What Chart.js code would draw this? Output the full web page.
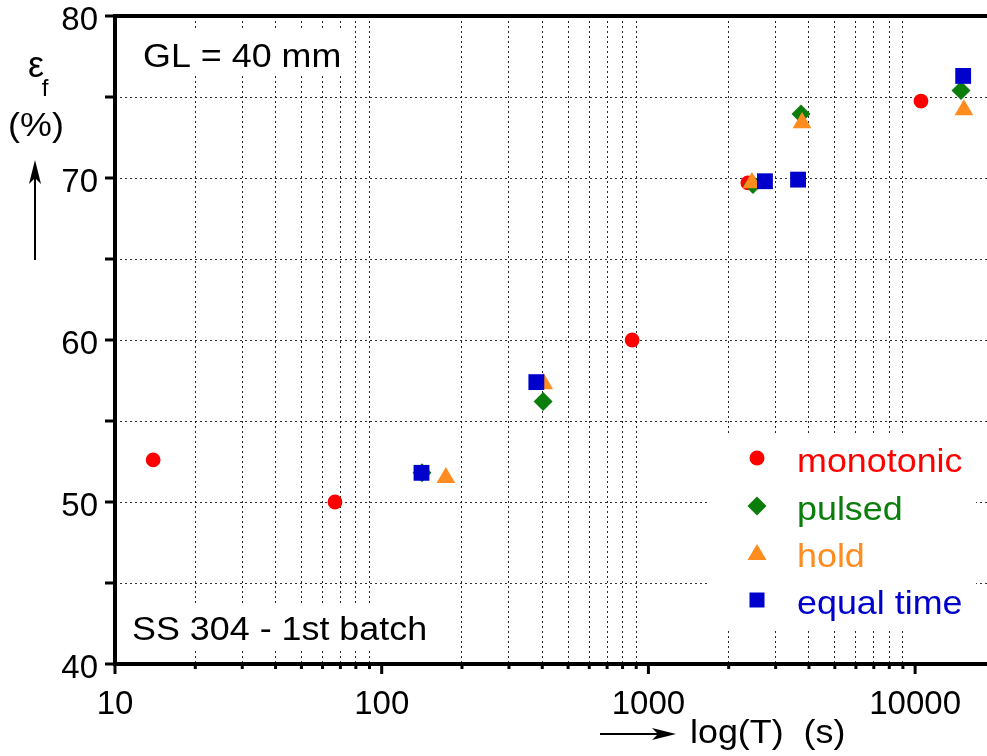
<!DOCTYPE html>
<html>
<head>
<meta charset="utf-8">
<script src="https://cdn.jsdelivr.net/npm/chart.js@4"></script>
<style>
  html, body { margin: 0; padding: 0; background: #fff; }
  #wrap { width: 987px; height: 756px; }
</style>
</head>
<body>
<div id="wrap"><canvas id="c" width="987" height="756"></canvas></div>
<script>
// data: time to failure (s) and strain at failure (%)
const monoT = [13.9, 66.8, 869, 2360, 10520];
const monoE = [52.6, 50.0, 60.0, 69.7, 74.75];
const pulsedT = [141.6, 403, 2466, 3733, 14860];
const pulsedE = [51.8, 56.2, 69.6, 73.95, 75.4];
const holdT = [174, 405, 2443, 3767, 15240];
const holdE = [51.5, 57.3, 69.7, 73.4, 74.2];
const equalT = [141, 380, 2735, 3640, 15140];
const equalE = [51.8, 57.4, 69.8, 69.9, 76.3];

const seriesNames = ["monotonic", "pulsed", "hold", "equal time"];
const seriesColors = ["#ff0000", "#0a7d0a", "#ff8c1e", "#0000cc"];
const xTicks = [10, 20, 30, 40, 50, 60, 70, 80, 90,
  100, 200, 300, 400, 500, 600, 700, 800, 900,
  1000, 2000, 3000, 4000, 5000, 6000, 7000, 8000, 9000, 10000];
const yTicks = [40, 45, 50, 55, 60, 65, 70, 75, 80];

const FONT = "'Liberation Sans', Arial, sans-serif";

function pts(xs, ys) {
  return xs.map((x, i) => ({ x: x, y: ys[i] }));
}
const isDecade = (v) => Math.abs(Math.log10(v) - Math.round(Math.log10(v))) < 1e-9;

// the original lettering is a little wider than Liberation Sans
function wideText(ctx, s, x, y) {
  ctx.save();
  ctx.translate(x, y);
  ctx.scale(1.055, 1);
  ctx.fillText(s, 0, 0);
  ctx.restore();
}

// legend marker shapes
function marker(ctx, style, x, y, color) {
  ctx.fillStyle = color;
  ctx.beginPath();
  if (style === "circle") {
    ctx.arc(x, y, 7.5, 0, Math.PI * 2);
  } else if (style === "diamond") {
    ctx.moveTo(x, y - 9.5); ctx.lineTo(x + 9.5, y);
    ctx.lineTo(x, y + 9.5); ctx.lineTo(x - 9.5, y);
  } else if (style === "triangle") {
    ctx.moveTo(x, y - 9); ctx.lineTo(x + 9.5, y + 7); ctx.lineTo(x - 9.5, y + 7);
  } else {
    ctx.rect(x - 7.5, y - 7.5, 15, 15);
  }
  ctx.closePath();
  ctx.fill();
}

function arrow(ctx, x1, y1, x2, y2) {
  const a = Math.atan2(y2 - y1, x2 - x1);
  ctx.strokeStyle = "#000"; ctx.fillStyle = "#000"; ctx.lineWidth = 2;
  ctx.beginPath(); ctx.moveTo(x1, y1);
  ctx.lineTo(x2 - 18 * Math.cos(a), y2 - 18 * Math.sin(a)); ctx.stroke();
  ctx.beginPath();
  ctx.moveTo(x2, y2);
  ctx.lineTo(x2 - 24 * Math.cos(a) + 6 * Math.sin(a), y2 - 24 * Math.sin(a) - 6 * Math.cos(a));
  ctx.lineTo(x2 - 18 * Math.cos(a), y2 - 18 * Math.sin(a));
  ctx.lineTo(x2 - 24 * Math.cos(a) - 6 * Math.sin(a), y2 - 24 * Math.sin(a) + 6 * Math.cos(a));
  ctx.closePath(); ctx.fill();
}

const decorations = {
  id: "decorations",
  beforeDatasetsDraw(chart) {
    const ctx = chart.ctx;
    ctx.save();
    // white boxes behind the labels hide the grid
    ctx.fillStyle = "#fff";
    ctx.fillRect(130, 28, 222, 48);
    ctx.fillRect(125, 606, 318, 42);
    ctx.fillRect(708, 436, 268, 194);
    ctx.fillStyle = "#000";
    ctx.font = "34px " + FONT;
    ctx.textBaseline = "alphabetic";
    ctx.textAlign = "left";
    wideText(ctx, "GL = 40 mm", 143, 67);
    wideText(ctx, "SS 304 - 1st batch", 132, 640);
    ctx.restore();
  },
  afterDraw(chart) {
    const ctx = chart.ctx;
    const a = chart.chartArea;
    const xs = chart.scales.x, ys = chart.scales.y;
    ctx.save();
    // ticks
    ctx.strokeStyle = "#000";
    ctx.lineWidth = 3;
    xs.ticks.forEach((t) => {
      const px = xs.getPixelForValue(t.value);
      const len = isDecade(t.value) ? 10 : 5;
      ctx.beginPath(); ctx.moveTo(px, a.bottom); ctx.lineTo(px, a.bottom + len); ctx.stroke();
    });
    ys.ticks.forEach((t) => {
      const py = ys.getPixelForValue(t.value);
      ctx.beginPath(); ctx.moveTo(a.left - 10, py); ctx.lineTo(a.left, py); ctx.stroke();
    });
    // frame (left, top, bottom)
    ctx.lineWidth = 4;
    ctx.beginPath();
    ctx.moveTo(a.right, a.top); ctx.lineTo(a.left, a.top);
    ctx.lineTo(a.left, a.bottom); ctx.lineTo(a.right, a.bottom);
    ctx.stroke();

    // legend
    const styles = ["circle", "diamond", "triangle", "rect"];
    const ly = [458, 506, 553, 600];
    ctx.font = "34px " + FONT;
    ctx.textAlign = "left";
    ctx.textBaseline = "alphabetic";
    seriesNames.forEach((n, i) => {
      marker(ctx, styles[i], 757, ly[i], seriesColors[i]);
      ctx.fillStyle = seriesColors[i];
      wideText(ctx, n, 797, ly[i] + 14);
    });

    // axis titles
    ctx.fillStyle = "#000";
    ctx.font = "34px " + FONT;
    wideText(ctx, "log(T)  (s)", 690, 743);
    arrow(ctx, 600, 734, 676, 734);
    ctx.textAlign = "center";
    ctx.font = "36px " + FONT;
    ctx.fillText("\u03b5", 36, 77);
    ctx.font = "24px " + FONT;
    ctx.fillText("f", 45, 96);
    ctx.font = "34px " + FONT;
    wideText(ctx, "(%)", 36, 136);
    arrow(ctx, 35, 260, 35, 160);
    ctx.restore();
  }
};

new Chart(document.getElementById("c"), {
  type: "scatter",
  data: {
    datasets: [
      { label: seriesNames[0], data: pts(monoT, monoE), pointStyle: "circle", pointRadius: 7.4,
        backgroundColor: seriesColors[0], borderWidth: 0, order: 4 },
      { label: seriesNames[1], data: pts(pulsedT, pulsedE), pointStyle: "rectRot", pointRadius: 9.5,
        backgroundColor: seriesColors[1], borderWidth: 0, order: 3 },
      { label: seriesNames[2], data: pts(holdT, holdE), pointStyle: "triangle", pointRadius: 10.8,
        backgroundColor: seriesColors[2], borderWidth: 0, order: 2 },
      { label: seriesNames[3], data: pts(equalT, equalE), pointStyle: "rect", pointRadius: 11.2,
        backgroundColor: seriesColors[3], borderWidth: 0, order: 1 }
    ]
  },
  options: {
    responsive: false,
    animation: false,
    layout: { autoPadding: false, padding: { top: 16, right: 0, left: 0, bottom: 0 } },
    plugins: { legend: { display: false }, tooltip: { enabled: false } },
    scales: {
      x: {
        type: "logarithmic",
        min: 10,
        max: 18600,
        afterBuildTicks: (s) => { s.ticks = xTicks.map((v) => ({ value: v, major: isDecade(v) })); },
        afterFit: (s) => { s.height = 92; s.paddingLeft = 0; s.paddingRight = 0; },
        border: { display: false, dash: [2, 3] },
        grid: {
          color: (c) => (c.tick && isDecade(c.tick.value)) ? "rgba(0,0,0,0)" : "rgba(0,0,0,0.85)",
          lineWidth: 1,
          drawTicks: true,
          tickLength: 10,
          tickColor: "rgba(0,0,0,0)"
        },
        ticks: {
          autoSkip: false,
          maxRotation: 0,
          padding: 11,
          color: "#000",
          font: { family: FONT, size: 33 },
          callback: (v) => isDecade(v) ? String(v) : ""
        }
      },
      y: {
        min: 40,
        max: 80,
        afterBuildTicks: (s) => { s.ticks = yTicks.map((v) => ({ value: v })); },
        afterFit: (s) => { s.width = 115; s.paddingTop = 0; s.paddingBottom = 0; },
        border: { display: false, dash: [2, 3] },
        grid: {
          color: "rgba(0,0,0,0.8)",
          lineWidth: 1,
          drawTicks: true,
          tickLength: 10,
          tickColor: "rgba(0,0,0,0)"
        },
        ticks: {
          padding: 7,
          labelOffset: 5,
          color: "#000",
          font: { family: FONT, size: 33 },
          callback: (v) => (v % 10 === 0) ? String(v) : ""
        }
      }
    }
  },
  plugins: [decorations]
});
</script>
</body>
</html>
